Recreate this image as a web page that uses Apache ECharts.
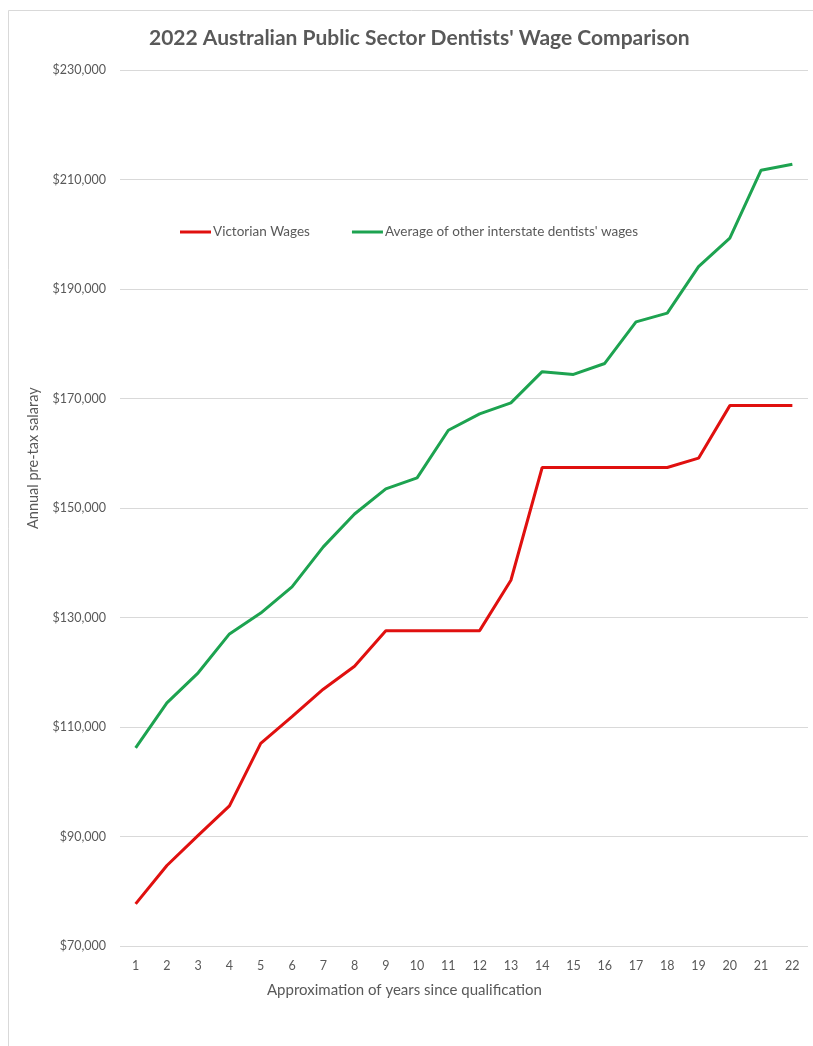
<!DOCTYPE html>
<html>
<head>
<meta charset="utf-8">
<script src="https://cdn.jsdelivr.net/npm/echarts@6/dist/echarts.min.js"></script>
<style>
html,body{margin:0;padding:0;background:#fff;}
#c{width:813px;height:1046px;}
</style>
</head>
<body>
<div id="c"></div>
<script>
const years = ['1','2','3','4','5','6','7','8','9','10','11','12','13','14','15','16','17','18','19','20','21','22'];
const victorianWages = [77700,84700,90200,95600,107000,111900,116900,121100,127600,127600,127600,127600,136800,157400,157400,157400,157400,157400,159100,168700,168700,168700];
const interstateAverage = [106200,114400,119900,127000,130800,135600,142900,148900,153500,155500,164200,167200,169200,174900,174400,176400,184000,185600,194100,199300,211700,212800];
const yTicks = {min:70000, max:230000, interval:20000};

const font = 'Lato, "Open Sans", sans-serif';
const grey = '#595959';
const chart = echarts.init(document.getElementById('c'));
chart.setOption({
  backgroundColor:'#fff',
  animation:false,
  title:{
    text:"2022 Australian Public Sector Dentists' Wage Comparison",
    left:144, top:23,
    textStyle:{fontFamily:font, fontSize:21, fontWeight:'bold', color:grey}
  },
  legend:{
    left:175, top:220,
    itemWidth:31, itemHeight:3, itemGap:42, icon:'rect',
    textStyle:{fontFamily:font, fontSize:13.5, color:grey, padding:[0,0,0,-3]},
    data:['Victorian Wages',"Average of other interstate dentists' wages"]
  },
  grid:{left:120, right:5, top:70, bottom:100},
  xAxis:{
    type:'category', data:years, boundaryGap:true,
    axisLine:{show:false}, axisTick:{show:false},
    axisLabel:{fontFamily:font, fontSize:12.5, color:grey, margin:13}
  },
  yAxis:{
    type:'value', min:yTicks.min, max:yTicks.max, interval:yTicks.interval,
    axisLine:{show:false}, axisTick:{show:false},
    splitLine:{lineStyle:{color:'#d9d9d9', width:1}},
    axisLabel:{fontFamily:font, fontSize:12.5, color:grey, margin:14,
      formatter:v=>'$'+v.toLocaleString('en-US')}
  },
  graphic:[
    {type:'rect', shape:{x:8.5,y:10.5,width:900,height:1100}, style:{fill:'none', stroke:'#d9d9d9', lineWidth:1}, z:-1},
    {type:'text', x:26, y:529, rotation:Math.PI/2,
      style:{text:'Annual pre-tax salaray', fontFamily:font, fontSize:14.5, fill:grey}},
    {type:'text', left:267, top:983,
      style:{text:'Approximation of years since qualification', fontFamily:font, fontSize:15, fill:grey}}
  ],
  series:[
    {name:'Victorian Wages', type:'line', data:victorianWages, symbol:'none',
      lineStyle:{color:'#e0100f', width:3}, itemStyle:{color:'#e0100f'}},
    {name:"Average of other interstate dentists' wages", type:'line', data:interstateAverage, symbol:'none',
      lineStyle:{color:'#1da350', width:3}, itemStyle:{color:'#1da350'}}
  ]
});
</script>
</body>
</html>
